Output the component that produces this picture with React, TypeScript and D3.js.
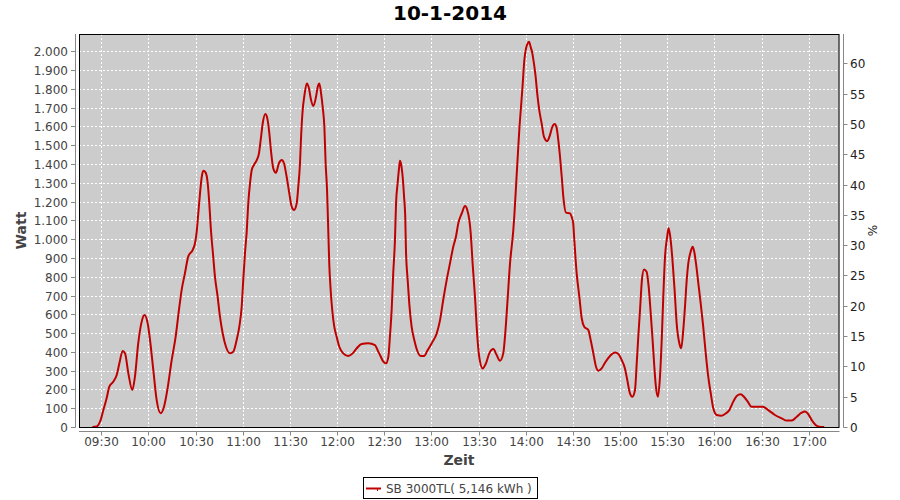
import React from "react";
import * as d3 from "d3";

const TITLE = "10-1-2014";
const SERIES_NAME = "SB 3000TL( 5,146 kWh )";
const X_LABEL = "Zeit";
const Y_LABEL = "Watt";
const Y2_LABEL = "%";

const times: string[] = [
  "09:24:18","09:27:06","09:29:12","09:31:18","09:33:24","09:35:06","09:37:36","09:39:48","09:41:30","09:43:36",
  "09:45:06","09:47:12","09:49:42","09:51:24","09:53:30","09:55:42","09:57:24","09:59:30","10:01:00","10:03:06",
  "10:05:12","10:07:48","10:09:54","10:12:00","10:14:48","10:17:18","10:19:24","10:21:06","10:23:12","10:25:18",
  "10:28:06","10:29:36","10:30:42","10:31:42","10:32:48","10:33:54","10:34:54","10:36:24","10:37:42","10:38:42",
  "10:39:36","10:41:12","10:42:18","10:44:00","10:45:30","10:47:12","10:49:18","10:51:54","10:54:00","10:56:06",
  "10:57:48","10:59:18","11:00:18","11:01:24","11:02:30","11:03:30","11:04:36","11:05:42","11:07:06","11:08:54",
  "11:10:18","11:11:24","11:12:42","11:14:18","11:15:36","11:16:54","11:17:54","11:19:24","11:21:06","11:23:00",
  "11:24:48","11:26:12","11:27:54","11:29:36","11:31:06","11:32:36","11:34:18","11:35:18","11:36:24","11:37:00",
  "11:38:06","11:39:06","11:40:42","11:42:06","11:43:12","11:44:54","11:46:36","11:47:42","11:48:42","11:49:48",
  "11:50:48","11:51:54","11:52:42","11:53:36","11:54:12","11:55:00","11:55:54","11:56:54","11:58:12","11:59:42",
  "12:01:24","12:03:54","12:07:06","12:09:54","12:12:30","12:15:36","12:19:48","12:24:06","12:26:12","12:27:18",
  "12:29:24","12:31:06","12:32:36","12:33:36","12:34:42","12:35:42","12:36:48","12:37:30","12:38:30","12:39:24",
  "12:40:00","12:40:36","12:41:42","12:42:36","12:43:24","12:43:48","12:44:54","12:45:54","12:47:24","12:49:06",
  "12:51:00","12:53:12","12:55:18","12:57:24","13:00:12","13:03:24","13:05:30","13:07:30","13:09:42","13:11:48",
  "13:13:54","13:15:36","13:17:06","13:19:18","13:21:24","13:22:48","13:24:06","13:25:00","13:26:12","13:27:42",
  "13:29:12","13:30:24","13:32:36","13:34:42","13:36:48","13:39:24","13:41:30","13:43:36","13:45:42","13:46:48",
  "13:48:18","13:50:00","13:52:06","13:52:42","13:53:48","13:54:54","13:55:54","13:57:00","13:58:06","13:59:06",
  "14:00:12","14:01:12","14:02:06","14:03:06","14:04:12","14:05:12","14:06:18","14:07:18","14:08:36","14:10:06",
  "14:11:36","14:13:42","14:15:24","14:16:54","14:18:24","14:19:42","14:20:42","14:21:48","14:22:54","14:23:54",
  "14:25:36","14:28:12","14:29:12","14:30:12","14:30:54","14:32:24","14:34:06","14:35:36","14:37:12","14:39:48",
  "14:41:18","14:43:00","14:44:42","14:46:06","14:48:18","14:50:24","14:53:36","14:56:48","14:58:54","15:01:00",
  "15:03:06","15:04:36","15:06:18","15:07:48","15:09:30","15:10:36","15:11:36","15:12:42","15:13:54","15:15:12",
  "15:16:54","15:18:12","15:19:30","15:20:42","15:21:48","15:22:48","15:24:06","15:25:24","15:26:30","15:27:30",
  "15:28:36","15:30:00","15:30:54","15:32:12","15:33:30","15:34:42","15:36:00","15:37:42","15:38:54","15:40:12",
  "15:41:18","15:42:24","15:43:24","15:44:54","15:46:12","15:47:12","15:48:18","15:49:48","15:51:18","15:52:54",
  "15:54:30","15:56:06","15:57:42","15:59:18","16:01:30","16:04:36","16:07:24","16:09:30","16:12:00","16:14:12",
  "16:16:42","16:18:48","16:21:12","16:23:42","16:26:54","16:30:42","16:34:18","16:38:30","16:42:48","16:46:00",
  "16:49:12","16:52:24","16:55:30","16:57:36","16:59:42","17:01:54","17:04:24","17:06:42","17:09:54",
];

const watts: number[] = [
  0,3,28,90,153,215,241,277,339,405,
  392,286,197,268,446,561,596,552,463,303,
  144,73,108,197,357,481,623,729,818,907,
  942,978,1040,1137,1244,1332,1364,1354,1297,1191,
  1066,907,800,694,587,499,427,392,401,463,
  534,640,782,925,1040,1191,1297,1368,1395,1421,
  1457,1528,1617,1666,1643,1563,1474,1377,1354,1404,
  1421,1404,1332,1244,1173,1155,1191,1279,1404,1528,
  1687,1758,1829,1803,1750,1709,1758,1811,1829,1776,
  1705,1598,1404,1262,1100,871,729,623,534,481,
  427,392,378,392,419,442,446,436,401,383,
  348,339,374,481,623,818,995,1191,1297,1377,
  1418,1404,1332,1226,1102,942,782,658,534,463,
  406,378,378,406,446,499,570,676,782,871,
  960,1013,1084,1137,1176,1155,1102,1031,871,694,
  481,374,312,339,392,415,383,353,392,481,
  658,871,1049,1119,1279,1439,1581,1705,1829,1953,
  2016,2042,2051,2024,1989,1936,1865,1776,1687,1617,
  1545,1522,1554,1598,1613,1590,1528,1439,1332,1226,
  1141,1137,1119,1084,995,818,694,579,534,516,
  463,392,321,300,312,342,378,396,389,357,
  312,250,179,161,197,339,481,623,782,839,
  827,747,605,463,321,215,161,268,463,694,
  907,1013,1060,995,871,729,552,446,419,516,
  640,782,871,933,960,933,871,765,658,534,
  392,268,179,100,64,60,73,90,135,165,
  174,161,135,108,108,108,90,64,46,34,
  34,55,76,83,69,37,11,2,0,
];

const xTickLabels: string[] = [
  "09:30","10:00","10:30","11:00","11:30","12:00","12:30","13:00",
  "13:30","14:00","14:30","15:00","15:30","16:00","16:30","17:00",
];
const yTicks: number[] = d3.range(0, 2001, 100);
const y2Ticks: number[] = d3.range(0, 61, 5);

const parse = d3.timeParse("%H:%M:%S");
const parseHM = d3.timeParse("%H:%M");

const FONT = "'DejaVu Sans', sans-serif";
const TICK_COLOR = "#444444";
const AXIS_COLOR = "#888888";

export default function App() {
  const W = 900;
  const H = 500;
  const plot = { left: 79, right: 839.5, top: 34, bottom: 427 };

  const x = d3
    .scaleTime()
    .domain([parseHM("09:30") as Date, parseHM("17:00") as Date])
    .range([101.3, 808.7]);
  const y = d3.scaleLinear().domain([0, 2000]).range([427, 51.3]);
  const y2 = d3.scaleLinear().domain([0, 60]).range([427, 63.3]);

  const data = times.map((t, i) => ({ t: parse(t) as Date, v: watts[i] }));
  const line = d3
    .line<{ t: Date; v: number }>()
    .x((d) => x(d.t))
    .y((d) => y(d.v))
    .curve(d3.curveMonotoneX);

  const fmtY = (v: number) => d3.format(",")(v).replace(/,/g, ".");

  return (
    <svg
      width={W}
      height={H}
      style={{ position: "absolute", left: 0, top: 0, background: "#fff" }}
      fontFamily={FONT}
    >
      <rect x={0} y={0} width={W} height={H} fill="#fff" />
      <text x={450} y={20} textAnchor="middle" fontSize={20} fontWeight="bold" fill="#000">
        {TITLE}
      </text>

      <rect
        x={plot.left}
        y={plot.top}
        width={plot.right - plot.left}
        height={plot.bottom - plot.top}
        fill="#cccccc"
      />
      <clipPath id="clip">
        <rect x={plot.left} y={plot.top} width={plot.right - plot.left} height={plot.bottom - plot.top} />
      </clipPath>

      {/* gridlines */}
      <g stroke="#ffffff" strokeWidth={1} strokeDasharray="2,2">
        {xTickLabels.map((l) => {
          const px = Math.round(x(parseHM(l) as Date)) + 0.5;
          return <line key={"gx" + l} x1={px} x2={px} y1={plot.top} y2={plot.bottom} />;
        })}
        {yTicks.slice(1).map((v) => {
          const py = Math.round(y(v)) + 0.5;
          return <line key={"gy" + v} x1={plot.left} x2={plot.right} y1={py} y2={py} />;
        })}
      </g>

      <path
        d={line(data) || ""}
        fill="none"
        stroke="#c00000"
        strokeWidth={2}
        clipPath="url(#clip)"
        strokeLinejoin="round"
      />

      {/* plot outline */}
      <rect
        x={plot.left + 0.5}
        y={plot.top + 0.5}
        width={plot.right - plot.left - 1}
        height={plot.bottom - plot.top}
        fill="none"
        stroke="#000"
        strokeWidth={1}
      />

      {/* left axis */}
      <line x1={75.5} x2={75.5} y1={plot.top} y2={plot.bottom + 0.5} stroke={AXIS_COLOR} />
      {yTicks.map((v) => {
        const py = Math.round(y(v)) + 0.5;
        return (
          <g key={"yt" + v}>
            <line x1={71} x2={75.5} y1={py} y2={py} stroke={AXIS_COLOR} />
            <text x={68} y={py + 4} textAnchor="end" fontSize={12} fill={TICK_COLOR}>
              {fmtY(v)}
            </text>
          </g>
        );
      })}
      <text
        transform={`translate(26,${(plot.top + plot.bottom) / 2}) rotate(-90)`}
        textAnchor="middle"
        fontSize={14}
        fontWeight="bold"
        fill={TICK_COLOR}
      >
        {Y_LABEL}
      </text>

      {/* right axis */}
      <line x1={843.5} x2={843.5} y1={plot.top} y2={plot.bottom + 0.5} stroke={AXIS_COLOR} />
      {y2Ticks.map((v) => {
        const py = Math.round(y2(v)) + 0.5;
        return (
          <g key={"y2t" + v}>
            <line x1={843.5} x2={847.5} y1={py} y2={py} stroke={AXIS_COLOR} />
            <text x={850} y={py + 4} textAnchor="start" fontSize={12} fill="#222">
              {v}
            </text>
          </g>
        );
      })}
      <text
        transform={`translate(877,${(plot.top + plot.bottom) / 2}) rotate(-90)`}
        textAnchor="middle"
        fontSize={12}
        fill="#222"
      >
        {Y2_LABEL}
      </text>

      {/* bottom axis */}
      <line x1={plot.left} x2={plot.right} y1={431.5} y2={431.5} stroke={AXIS_COLOR} />
      {xTickLabels.map((l) => {
        const px = Math.round(x(parseHM(l) as Date)) + 0.5;
        return (
          <g key={"xt" + l}>
            <line x1={px} x2={px} y1={431.5} y2={435.5} stroke={AXIS_COLOR} />
            <text x={px} y={446} textAnchor="middle" fontSize={12} fill={TICK_COLOR}>
              {l}
            </text>
          </g>
        );
      })}
      <text x={459} y={465} textAnchor="middle" fontSize={14} fontWeight="bold" fill={TICK_COLOR}>
        {X_LABEL}
      </text>

      {/* legend */}
      <rect x={363.5} y={477.5} width={174} height={21} fill="#fff" stroke="#000" />
      <line x1={366} x2={381} y1={488.5} y2={488.5} stroke="#c00000" strokeWidth={2} />
      <line x1={377.5} x2={377.5} y1={488} y2={491} stroke="#c00000" strokeWidth={1} />
      <text x={386} y={493} fontSize={12} fill={TICK_COLOR}>
        {SERIES_NAME}
      </text>
    </svg>
  );
}
